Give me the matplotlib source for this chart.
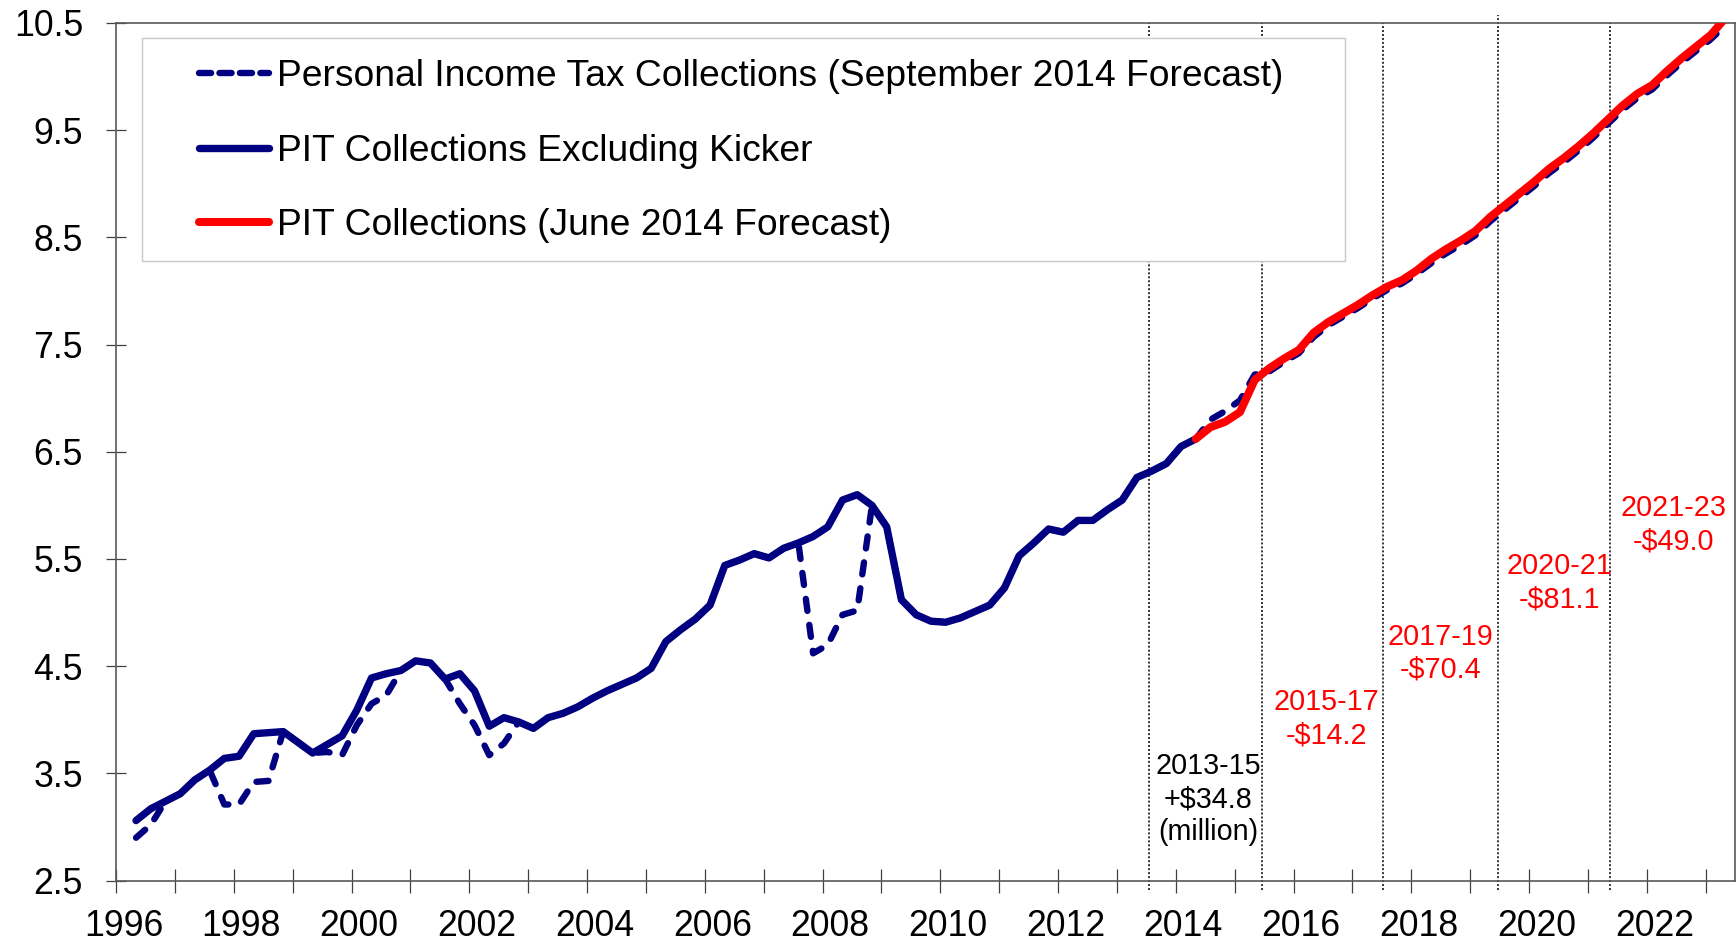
import matplotlib
matplotlib.use("Agg")
import matplotlib.pyplot as plt
import matplotlib.transforms as mtransforms
from matplotlib.lines import Line2D
from matplotlib.patches import Rectangle

plt.rcParams['font.family'] = ['Liberation Sans', 'DejaVu Sans']

# ---------------- data (quarterly, $ billions) ----------------
start_year = 1996.34
quarter = 0.25

# PIT collections excluding kicker (history, 1996 Q2 .. 2014 Q2)
pit_excl_kicker = [
    3.06, 3.17, 3.24, 3.31, 3.44, 3.53, 3.64, 3.66, 3.87, 3.88,
    3.89, 3.79, 3.69, 3.77, 3.85, 4.09, 4.39, 4.43, 4.46, 4.55,
    4.53, 4.38, 4.43, 4.27, 3.94, 4.02, 3.98, 3.92, 4.02, 4.06,
    4.12, 4.20, 4.27, 4.33, 4.39, 4.48, 4.73, 4.84, 4.94, 5.07,
    5.44, 5.49, 5.55, 5.51, 5.60, 5.65, 5.71, 5.80, 6.05, 6.10,
    6.00, 5.80, 5.12, 4.98, 4.92, 4.91, 4.95, 5.01, 5.07, 5.23,
    5.53, 5.65, 5.78, 5.75, 5.86, 5.86, 5.96, 6.05, 6.26, 6.32,
    6.39, 6.55, 6.62,
]

# Personal income tax collections, September 2014 forecast (incl. kicker)
pit_sep2014 = [
    2.90, 3.02, 3.24, 3.31, 3.44, 3.53, 3.21, 3.21, 3.42, 3.43,
    3.89, 3.79, 3.69, 3.70, 3.67, 3.95, 4.15, 4.23, 4.46, 4.55,
    4.53, 4.38, 4.15, 3.95, 3.67, 3.78, 3.98, 3.92, 4.02, 4.06,
    4.12, 4.20, 4.27, 4.33, 4.39, 4.48, 4.73, 4.84, 4.94, 5.07,
    5.44, 5.49, 5.55, 5.51, 5.60, 5.65, 4.62, 4.70, 4.98, 5.02,
    6.00, 5.80, 5.12, 4.98, 4.92, 4.91, 4.95, 5.01, 5.07, 5.23,
    5.53, 5.65, 5.78, 5.75, 5.86, 5.86, 5.96, 6.05, 6.26, 6.32,
    6.39, 6.55, 6.62, 6.80, 6.88, 6.98, 7.22, 7.25, 7.34, 7.42,
    7.57, 7.68, 7.76, 7.84, 7.93, 8.01, 8.07, 8.16, 8.26, 8.35,
    8.43, 8.52, 8.65, 8.76, 8.87, 8.98, 9.10, 9.20, 9.31, 9.43,
    9.56, 9.69, 9.80, 9.88, 10.01, 10.13, 10.24, 10.35, 10.48,
]

# PIT collections, June 2014 forecast (from 2014 Q2)
pit_jun2014_start = 72
pit_jun2014 = [
    6.62, 6.73, 6.78, 6.87, 7.17, 7.28, 7.37, 7.45, 7.61, 7.71,
    7.79, 7.87, 7.96, 8.04, 8.10, 8.19, 8.30, 8.39, 8.47, 8.56,
    8.69, 8.80, 8.91, 9.02, 9.14, 9.24, 9.35, 9.47, 9.60, 9.73,
    9.84, 9.92, 10.05, 10.17, 10.28, 10.39, 10.55,
]

# biennium boundaries and forecast-change annotations
biennium_lines = [2013.55, 2015.47, 2017.52, 2019.48, 2021.38]
annotations = [
    ("2013-15\n+\\$34.8\n(million)", 2014.55, 3.26, "black"),
    ("2015-17\n-\\$14.2", 2016.56, 4.01, "red"),
    ("2017-19\n-\\$70.4", 2018.50, 4.62, "red"),
    ("2020-21\n-\\$81.1", 2020.51, 5.28, "red"),
    ("2021-23\n-\\$49.0", 2022.45, 5.82, "red"),
]
legend_labels = [
    "Personal Income Tax Collections (September 2014 Forecast)",
    "PIT Collections Excluding Kicker",
    "PIT Collections (June 2014 Forecast)",
]
y_ticks = [2.5, 3.5, 4.5, 5.5, 6.5, 7.5, 8.5, 9.5, 10.5]
x_years = list(range(1996, 2024))

# ---------------- x positions ----------------
def xs(n, offset=0):
    return [start_year + quarter * (i + offset) for i in range(n)]

x_hist = xs(len(pit_excl_kicker))
x_sep = xs(len(pit_sep2014))
x_jun = xs(len(pit_jun2014), pit_jun2014_start)

NAVY = "#000080"
RED = "#FF0000"

W, H = 1736, 944
fig = plt.figure(figsize=(W / 100, H / 100), dpi=100)
ax = fig.add_axes([116 / W, (H - 880.6) / H, (1734.5 - 116) / W, (880.6 - 23) / H])

l_solid, = ax.plot(x_hist, pit_excl_kicker, color=NAVY, lw=5.3,
                   solid_joinstyle='round', solid_capstyle='round', zorder=3)
l_dash, = ax.plot(x_sep, pit_sep2014, color=NAVY, lw=4.6,
                  dashes=(1.9, 2.2), dash_capstyle='round',
                  dash_joinstyle='round', zorder=4)
l_red, = ax.plot(x_jun, pit_jun2014, color=RED, lw=5.8,
                 solid_joinstyle='round', solid_capstyle='round', zorder=5)

for xv in biennium_lines:
    top = 10.57 if abs(xv - 2019.48) < 0.01 else 10.5
    ax.plot([xv, xv], [2.41, top], color="black", lw=1.1,
            linestyle=(0, (1.3, 1.3)), clip_on=False, zorder=2)

for txt, xv, yv, col in annotations:
    ax.text(xv, yv, txt, color=col, fontsize=20.7, ha='center', va='center',
            multialignment='center', linespacing=1.22, zorder=6)

ax.set_xlim(1996, 2023.49)
ax.set_ylim(2.5, 10.5)
ax.set_yticks(y_ticks)
ax.set_yticklabels([f"{v:.1f}" for v in y_ticks])
ax.set_xticks(x_years)
ax.set_xticklabels([str(y) if y % 2 == 0 else "" for y in x_years])

for s in ax.spines.values():
    s.set_color("#595959")
    s.set_linewidth(1.2)

ax.tick_params(axis='y', direction='inout', length=14.4, width=0.9,
               color="#404040", labelsize=25.7, pad=16.5)
ax.tick_params(axis='x', direction='inout', length=17, width=0.9,
               color="#404040", labelsize=25.7, pad=12)

offset = mtransforms.ScaledTranslation(7.5 / 100, 0, fig.dpi_scale_trans)
for lab in ax.get_xticklabels():
    lab.set_transform(lab.get_transform() + offset)

# legend frame
fig.patches.append(Rectangle((141.7 / W, 1 - 261 / H), (1345 - 141.7) / W,
                             (261 - 37.6) / H, transform=fig.transFigure,
                             facecolor="white", edgecolor="#c8c8c8", lw=1.0,
                             zorder=0))
handles = [
    Line2D([], [], color=NAVY, lw=4.6, dashes=(1.9, 1.3), dash_capstyle='round'),
    Line2D([], [], color=NAVY, lw=5.3, solid_capstyle='round'),
    Line2D([], [], color=RED, lw=5.8, solid_capstyle='round'),
]
leg = fig.legend(handles, legend_labels, loc='upper left',
                 bbox_to_anchor=(199 / W, 1 - 59.4 / H),
                 bbox_transform=fig.transFigure, frameon=False,
                 fontsize=26.8, handlelength=1.88, handletextpad=0.215,
                 labelspacing=1.06, borderpad=0, borderaxespad=0)
leg.set_zorder(10)

fig.savefig("out.png", dpi=100)
